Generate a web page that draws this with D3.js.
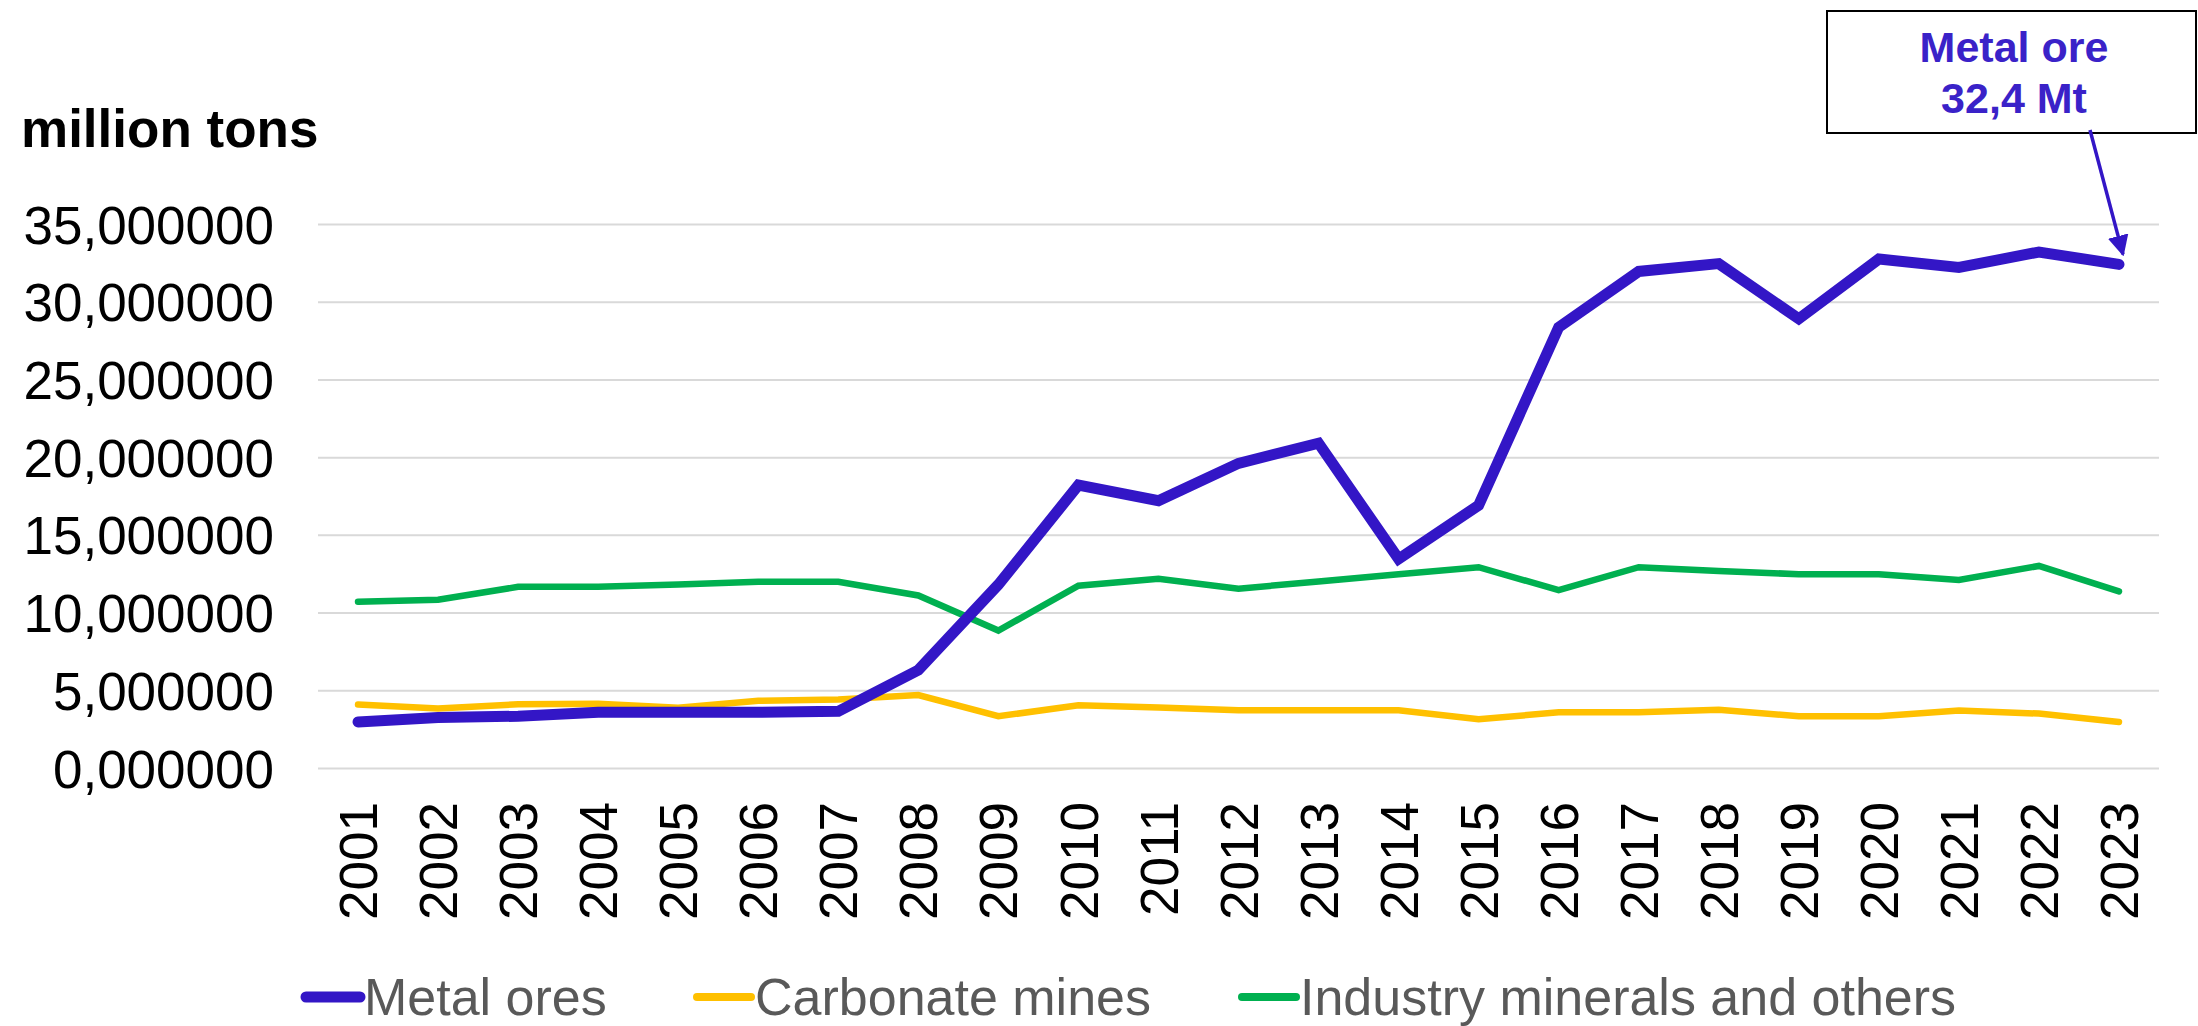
<!DOCTYPE html>
<html>
<head>
<meta charset="utf-8">
<script src="https://cdn.jsdelivr.net/npm/d3@7"></script>
<style>
    body { margin: 0; background: #fff; }
    text { font-family: "Liberation Sans", Arial, sans-serif; }
</style>
</head>
<body>
<svg id="chart" width="2198" height="1026"></svg>
<script>
// values in million tons
var years = ["2001", "2002", "2003", "2004", "2005", "2006", "2007", "2008", "2009", "2010", "2011", "2012",
    "2013", "2014", "2015", "2016", "2017", "2018", "2019", "2020", "2021", "2022", "2023"];
var metalOres = [2.96, 3.25, 3.33, 3.58, 3.58, 3.58, 3.65, 6.3, 11.8, 18.2, 17.2, 19.6,
    20.9, 13.45, 16.9, 28.35, 31.95, 32.45, 28.9, 32.75, 32.2, 33.2, 32.4];
var carbonateMines = [4.08, 3.83, 4.1, 4.13, 3.88, 4.32, 4.4, 4.69, 3.33, 4.03, 3.9, 3.72,
    3.72, 3.72, 3.14, 3.58, 3.58, 3.75, 3.33, 3.33, 3.7, 3.5, 2.96];
var industryMinerals = [10.7, 10.82, 11.66, 11.66, 11.8, 11.98, 11.98, 11.1, 8.84, 11.73, 12.18, 11.54,
    12.0, 12.47, 12.92, 11.44, 12.92, 12.67, 12.47, 12.47, 12.1, 13.0, 11.36];
var yTicks = [0, 5, 10, 15, 20, 25, 30, 35];
var seriesNames = ["Metal ores", "Carbonate mines", "Industry minerals and others"];

var series = [
    { name: seriesNames[0], values: metalOres, color: "#3316C6", width: 11 },
    { name: seriesNames[1], values: carbonateMines, color: "#FFC000", width: 6.5 },
    { name: seriesNames[2], values: industryMinerals, color: "#00B050", width: 6.5 }
];

var svg = d3.select("#chart"),
    margin = { top: 224, right: 39, bottom: 258, left: 318 },
    width = +svg.attr("width") - margin.left - margin.right,
    height = +svg.attr("height") - margin.top - margin.bottom,
    g = svg.append("g").attr("transform", "translate(" + margin.left + "," + margin.top + ")");

var x = d3.scaleBand()
    .domain(years)
    .range([0, width]);

var y = d3.scaleLinear()
    .domain([0, 35])
    .range([height, 0]);

var fmt = function (d) {
    return d3.format(".6f")(d).replace(".", ",");
};

// grid + y labels
g.append("g")
    .call(d3.axisLeft(y).tickValues(yTicks).tickSize(-width).tickFormat(fmt))
    .call(g => g.select(".domain").remove())
    .call(g => g.selectAll(".tick line")
        .attr("stroke", "#d9d9d9")
        .attr("stroke-width", 2))
    .call(g => g.selectAll(".tick text")
        .attr("x", -44)
        .attr("dy", "0.36em")
        .attr("fill", "#000")
        .attr("font-size", 53)
        .attr("font-family", "Liberation Sans, Arial, sans-serif"));

// x labels rotated
g.append("g")
    .attr("transform", "translate(0," + height + ")")
    .call(d3.axisBottom(x).tickSize(0))
    .call(g => g.select(".domain").remove())
    .call(g => g.selectAll(".tick text")
        .attr("transform", "rotate(-90)")
        .attr("text-anchor", "end")
        .attr("x", -34)
        .attr("y", 0)
        .attr("dy", "0.36em")
        .attr("fill", "#000")
        .attr("font-size", 53)
        .attr("font-family", "Liberation Sans, Arial, sans-serif"));

var line = d3.line()
    .x(function (d, i) { return x(years[i]) + x.bandwidth() / 2; })
    .y(function (d) { return y(d); });

// draw green, yellow, then blue on top
[series[2], series[1], series[0]].forEach(function (s) {
    g.append("path")
        .datum(s.values)
        .attr("fill", "none")
        .attr("stroke", s.color)
        .attr("stroke-width", s.width)
        .attr("stroke-linejoin", "miter")
        .attr("stroke-linecap", "round")
        .attr("d", line);
});

// y title
svg.append("text")
    .attr("x", 21)
    .attr("y", 147)
    .attr("font-size", 53)
    .attr("font-weight", "bold")
    .attr("fill", "#000")
    .text("million tons");

// annotation box
svg.append("defs").append("marker")
    .attr("id", "arrow")
    .attr("viewBox", "0 0 10 10")
    .attr("refX", 9)
    .attr("refY", 5)
    .attr("markerWidth", 6)
    .attr("markerHeight", 6)
    .attr("orient", "auto")
    .append("path")
    .attr("d", "M0,0 L10,5 L0,10 z")
    .attr("fill", "#3316C6");

svg.append("rect")
    .attr("x", 1827)
    .attr("y", 11)
    .attr("width", 369)
    .attr("height", 122)
    .attr("fill", "#fff")
    .attr("stroke", "#000")
    .attr("stroke-width", 2);

var ann = svg.append("text")
    .attr("text-anchor", "middle")
    .attr("font-size", 43)
    .attr("font-weight", "bold")
    .attr("fill", "#3A22C8");
ann.append("tspan").attr("x", 2014).attr("y", 62).text("Metal ore");
ann.append("tspan").attr("x", 2014).attr("y", 113).text("32,4 Mt");

var lastX = margin.left + x(years[years.length - 1]) + x.bandwidth() / 2,
    lastY = margin.top + y(metalOres[metalOres.length - 1]);
svg.append("line")
    .attr("x1", 2090)
    .attr("y1", 130)
    .attr("x2", lastX + 4)
    .attr("y2", lastY - 10)
    .attr("stroke", "#3316C6")
    .attr("stroke-width", 3.5)
    .attr("marker-end", "url(#arrow)");

// legend
var legendPos = [306, 697, 1242];
var legend = svg.append("g")
    .selectAll("g")
    .data(series)
    .enter().append("g")
    .attr("transform", function (d, i) {
        return "translate(" + legendPos[i] + ",997)";
    });

legend.append("line")
    .attr("x1", 0)
    .attr("x2", 54)
    .attr("stroke", function (d) { return d.color; })
    .attr("stroke-width", function (d, i) { return i == 0 ? 11 : 8; })
    .attr("stroke-linecap", "round");

legend.append("text")
    .attr("x", 58)
    .attr("dy", "0.34em")
    .attr("font-size", 52)
    .attr("fill", "#595959")
    .text(function (d) { return d.name; });
</script>
</body>
</html>
